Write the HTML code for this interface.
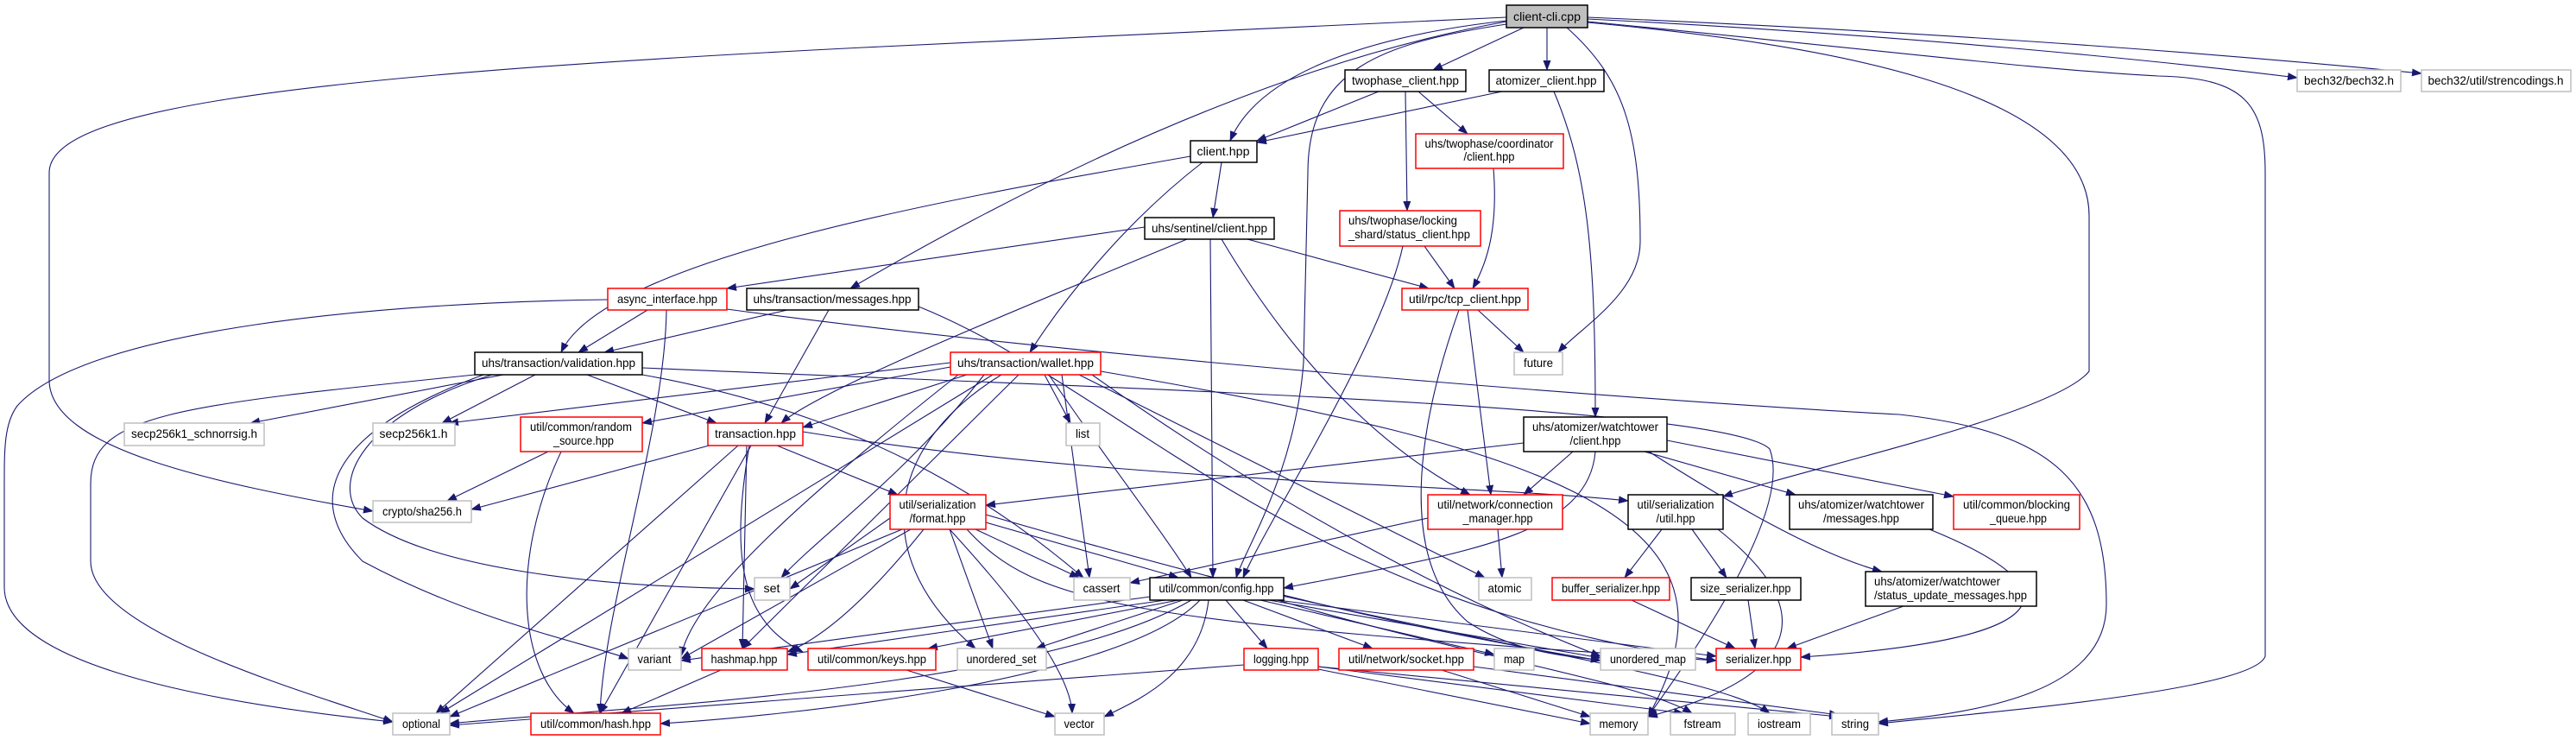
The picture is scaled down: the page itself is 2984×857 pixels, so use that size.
<!DOCTYPE html>
<html><head><meta charset="utf-8"><style>
html,body{margin:0;padding:0;background:#fff}
svg{display:block}
text{font-family:"Liberation Sans",sans-serif;font-size:14px;fill:#000}
.e{fill:none;stroke:#191970;stroke-width:1.1}
.k{fill:#fff;stroke:#000;stroke-width:1.5}
.r{fill:#fff;stroke:#ff0000;stroke-width:1.5}
.g{fill:#fff;stroke:#bfbfbf;stroke-width:1.5}
</style></head><body>
<svg width="2984" height="857" viewBox="0 0 2984 857" xmlns="http://www.w3.org/2000/svg">
<defs><marker id="a" markerUnits="userSpaceOnUse" markerWidth="12" markerHeight="10" refX="11" refY="4.5" orient="auto"><path d="M0,0 L12,4.5 L0,9 z" fill="#191970"/></marker></defs>
<g class="e" marker-end="url(#a)">
<path d="M1765,32 L1660,81"/>
<path d="M1792,32 L1792,81"/>
<path d="M1745,24 C1600,40 1460,80 1425,163"/>
<path d="M1839,22 C2200,40 2500,70 2661,90"/>
<path d="M1839,20 C2300,40 2600,65 2805,85"/>
<path d="M1815,32 C1880,90 1900,150 1900,280 C1900,340 1830,380 1805,408"/>
<path d="M1745,25 C1550,60 1300,150 985,334"/>
<path d="M1745,20 L1000,55 C300,90 57,130 57,200 L57,440 C57,520 250,560 432,592"/>
<path d="M1745,28 C1600,50 1515,80 1515,200 L1510,420 C1500,550 1440,640 1432,669"/>
<path d="M1839,26 C2100,50 2420,100 2420,250 L2420,430 C2380,480 2100,540 1996,575"/>
<path d="M1839,25 C2200,60 2350,80 2500,88 C2600,90 2624,120 2624,200 L2624,760 C2610,800 2300,825 2176,838"/>
<path d="M1800,106 C1840,200 1848,300 1848,483"/>
<path d="M1740,106 L1456,165"/>
<path d="M1597,106 L1456,163"/>
<path d="M1643,106 L1700,155"/>
<path d="M1628,106 L1630,244"/>
<path d="M1730,195 C1735,260 1725,300 1706,334"/>
<path d="M1650,285 L1685,334"/>
<path d="M1625,285 C1600,400 1470,600 1440,669"/>
<path d="M1415,188 L1405,252"/>
<path d="M1393,188 C1300,260 1230,350 1193,408"/>
<path d="M1379,181 C1100,230 700,300 650,408"/>
<path d="M1326,263 L842,334"/>
<path d="M1375,277 C1200,350 950,450 905,490"/>
<path d="M1402,277 L1405,669"/>
<path d="M1415,277 C1500,420 1600,520 1703,573"/>
<path d="M1445,277 L1655,334"/>
<path d="M1712,359 L1765,408"/>
<path d="M1700,359 L1727,573"/>
<path d="M1690,359 C1640,500 1620,650 1700,720 C1760,760 1830,760 1854,765"/>
<path d="M750,359 L670,408"/>
<path d="M772,359 C770,500 700,700 695,826"/>
<path d="M704,347 C450,350 100,380 20,470 C5,490 5,520 5,560 L5,680 C5,780 300,820 455,836"/>
<path d="M842,358 C1300,420 2000,470 2200,480 C2380,500 2440,560 2440,700 C2440,800 2300,825 2176,836"/>
<path d="M912,359 L700,408"/>
<path d="M960,359 L886,490"/>
<path d="M1064,355 C1300,450 1500,700 1988,765"/>
<path d="M583,434 L290,490"/>
<path d="M620,434 L512,490"/>
<path d="M680,434 L830,490"/>
<path d="M570,434 C420,480 380,560 420,600 C500,660 700,680 874,682"/>
<path d="M560,434 C380,500 350,580 420,650 C550,720 680,745 728,763"/>
<path d="M550,434 C200,470 105,480 105,560 L105,650 C105,730 350,800 455,836"/>
<path d="M744,434 C1000,480 1150,580 1255,669"/>
<path d="M744,426 C1300,450 2000,470 2050,520 C2080,600 1930,800 1909,830"/>
<path d="M1101,420 L520,490"/>
<path d="M1101,425 L744,490"/>
<path d="M1120,434 L930,495"/>
<path d="M1210,434 L1240,490"/>
<path d="M1140,434 C1050,550 950,620 905,669"/>
<path d="M1150,434 L510,826"/>
<path d="M1180,434 L860,751"/>
<path d="M1215,434 C1280,530 1350,620 1380,669"/>
<path d="M1160,434 C1020,520 1010,650 1130,751"/>
<path d="M1230,434 L1262,669"/>
<path d="M1250,434 L1720,669"/>
<path d="M1265,434 C1500,600 1700,700 1854,760"/>
<path d="M1275,430 C1800,520 2040,600 1909,830"/>
<path d="M1110,434 C900,600 800,700 789,760"/>
<path d="M635,523 L518,580"/>
<path d="M650,523 C590,650 600,780 665,826"/>
<path d="M825,515 L546,590"/>
<path d="M855,516 L505,826"/>
<path d="M870,516 L695,826"/>
<path d="M868,516 C845,650 860,720 930,755"/>
<path d="M865,516 L860,751"/>
<path d="M900,516 L1040,573"/>
<path d="M930,500 C1300,560 1700,560 1886,580"/>
<path d="M1031,600 L915,682"/>
<path d="M1130,613 L1250,669"/>
<path d="M1142,605 L1365,669"/>
<path d="M1100,613 L1150,751"/>
<path d="M1100,613 C1180,700 1240,780 1242,826"/>
<path d="M1055,613 L789,763"/>
<path d="M1045,613 L521,830"/>
<path d="M1142,596 C1500,700 1700,740 1854,765"/>
<path d="M1120,613 C1200,700 1300,720 1988,765"/>
<path d="M1070,613 C1000,700 950,740 912,755"/>
<path d="M1654,600 L1309,675"/>
<path d="M1735,613 L1740,669"/>
<path d="M1765,513 L1142,585"/>
<path d="M1822,523 L1765,573"/>
<path d="M1848,523 C1840,620 1700,640 1487,681"/>
<path d="M1905,523 L2080,573"/>
<path d="M1931,510 L2263,575"/>
<path d="M1910,523 C2000,580 2100,640 2180,662"/>
<path d="M1925,613 L1882,669"/>
<path d="M1960,613 L2000,669"/>
<path d="M1990,613 C2100,700 2100,780 1909,830"/>
<path d="M1890,695 L2010,751"/>
<path d="M2025,695 L2033,751"/>
<path d="M2205,702 L2070,751"/>
<path d="M2235,613 C2400,680 2400,740 2086,761"/>
<path d="M1365,695 L1075,751"/>
<path d="M1370,695 L1200,751"/>
<path d="M1350,695 L912,758"/>
<path d="M1340,690 L789,765"/>
<path d="M1380,695 C1200,800 700,820 521,838"/>
<path d="M1390,695 C1300,790 900,830 765,838"/>
<path d="M1400,695 C1390,780 1320,810 1279,830"/>
<path d="M1420,695 L1468,751"/>
<path d="M1440,695 L1590,751"/>
<path d="M1460,695 L1731,758"/>
<path d="M1470,695 L1854,762"/>
<path d="M1480,695 L1988,760"/>
<path d="M1480,695 C1700,760 1900,790 1960,826"/>
<path d="M1485,690 C1800,760 2000,790 2050,826"/>
<path d="M1050,776 L1222,830"/>
<path d="M835,776 L720,826"/>
<path d="M1441,770 L521,840"/>
<path d="M1527,775 L1842,838"/>
<path d="M1527,772 L1950,826"/>
<path d="M1527,772 L2130,830"/>
<path d="M1670,776 L1842,830"/>
<path d="M1707,772 L2130,828"/>
</g>
<g>
<rect x="1745" y="6" width="94" height="26" fill="#bfbfbf" stroke="#000" stroke-width="1.5"/><text x="1792" y="24" text-anchor="middle" textLength="78" lengthAdjust="spacingAndGlyphs">client-cli.cpp</text>
<rect class="k" x="1558" y="81" width="140" height="25"/><text x="1628" y="98" text-anchor="middle" textLength="124" lengthAdjust="spacingAndGlyphs">twophase_client.hpp</text>
<rect class="k" x="1725" y="81" width="133" height="25"/><text x="1791" y="98" text-anchor="middle" textLength="117" lengthAdjust="spacingAndGlyphs">atomizer_client.hpp</text>
<rect class="g" x="2661" y="81" width="120" height="25"/><text x="2721" y="98" text-anchor="middle" textLength="104" lengthAdjust="spacingAndGlyphs">bech32/bech32.h</text>
<rect class="g" x="2805" y="81" width="173" height="25"/><text x="2891" y="98" text-anchor="middle" textLength="157" lengthAdjust="spacingAndGlyphs">bech32/util/strencodings.h</text>
<rect class="k" x="1379" y="163" width="77" height="25"/><text x="1417" y="180" text-anchor="middle" textLength="61" lengthAdjust="spacingAndGlyphs">client.hpp</text>
<rect class="r" x="1640" y="155" width="171" height="40"/><text x="1725" y="171" text-anchor="middle" textLength="149" lengthAdjust="spacingAndGlyphs">uhs/twophase/coordinator</text><text x="1725" y="186" text-anchor="middle" textLength="59" lengthAdjust="spacingAndGlyphs">/client.hpp</text>
<rect class="k" x="1326" y="252" width="150" height="25"/><text x="1401" y="269" text-anchor="middle" textLength="134" lengthAdjust="spacingAndGlyphs">uhs/sentinel/client.hpp</text>
<rect class="r" x="1552" y="244" width="163" height="41"/><text x="1562" y="260" textLength="126" lengthAdjust="spacingAndGlyphs">uhs/twophase/locking</text><text x="1562" y="276" textLength="141" lengthAdjust="spacingAndGlyphs">_shard/status_client.hpp</text>
<rect class="r" x="1624" y="334" width="146" height="25"/><text x="1697" y="351" text-anchor="middle" textLength="130" lengthAdjust="spacingAndGlyphs">util/rpc/tcp_client.hpp</text>
<rect class="g" x="1754" y="408" width="56" height="26"/><text x="1782" y="425" text-anchor="middle" textLength="34" lengthAdjust="spacingAndGlyphs">future</text>
<rect class="r" x="704" y="334" width="138" height="25"/><text x="773" y="351" text-anchor="middle" textLength="116" lengthAdjust="spacingAndGlyphs">async_interface.hpp</text>
<rect class="k" x="865" y="334" width="199" height="25"/><text x="964" y="351" text-anchor="middle" textLength="183" lengthAdjust="spacingAndGlyphs">uhs/transaction/messages.hpp</text>
<rect class="k" x="550" y="408" width="194" height="26"/><text x="647" y="425" text-anchor="middle" textLength="178" lengthAdjust="spacingAndGlyphs">uhs/transaction/validation.hpp</text>
<rect class="r" x="1101" y="408" width="174" height="26"/><text x="1188" y="425" text-anchor="middle" textLength="158" lengthAdjust="spacingAndGlyphs">uhs/transaction/wallet.hpp</text>
<rect class="g" x="144" y="490" width="162" height="26"/><text x="225" y="507" text-anchor="middle" textLength="146" lengthAdjust="spacingAndGlyphs">secp256k1_schnorrsig.h</text>
<rect class="g" x="432" y="490" width="95" height="26"/><text x="479" y="507" text-anchor="middle" textLength="79" lengthAdjust="spacingAndGlyphs">secp256k1.h</text>
<rect class="r" x="603" y="483" width="141" height="40"/><text x="673" y="499" text-anchor="middle" textLength="118" lengthAdjust="spacingAndGlyphs">util/common/random</text><text x="676" y="515" text-anchor="middle" textLength="70" lengthAdjust="spacingAndGlyphs">_source.hpp</text>
<rect class="r" x="820" y="490" width="110" height="26"/><text x="875" y="507" text-anchor="middle" textLength="94" lengthAdjust="spacingAndGlyphs">transaction.hpp</text>
<rect class="g" x="1235" y="490" width="39" height="26"/><text x="1254" y="507" text-anchor="middle" textLength="16" lengthAdjust="spacingAndGlyphs">list</text>
<rect class="k" x="1765" y="483" width="166" height="40"/><text x="1848" y="499" text-anchor="middle" textLength="146" lengthAdjust="spacingAndGlyphs">uhs/atomizer/watchtower</text><text x="1848" y="515" text-anchor="middle" textLength="59" lengthAdjust="spacingAndGlyphs">/client.hpp</text>
<rect class="g" x="432" y="580" width="114" height="25"/><text x="489" y="597" text-anchor="middle" textLength="92" lengthAdjust="spacingAndGlyphs">crypto/sha256.h</text>
<rect class="r" x="1031" y="573" width="111" height="40"/><text x="1086" y="589" text-anchor="middle" textLength="89" lengthAdjust="spacingAndGlyphs">util/serialization</text><text x="1086" y="605" text-anchor="middle" textLength="65" lengthAdjust="spacingAndGlyphs">/format.hpp</text>
<rect class="r" x="1654" y="573" width="156" height="40"/><text x="1732" y="589" text-anchor="middle" textLength="134" lengthAdjust="spacingAndGlyphs">util/network/connection</text><text x="1735" y="605" text-anchor="middle" textLength="81" lengthAdjust="spacingAndGlyphs">_manager.hpp</text>
<rect class="k" x="1886" y="573" width="110" height="40"/><text x="1941" y="589" text-anchor="middle" textLength="89" lengthAdjust="spacingAndGlyphs">util/serialization</text><text x="1941" y="605" text-anchor="middle" textLength="45" lengthAdjust="spacingAndGlyphs">/util.hpp</text>
<rect class="k" x="2073" y="573" width="166" height="40"/><text x="2156" y="589" text-anchor="middle" textLength="146" lengthAdjust="spacingAndGlyphs">uhs/atomizer/watchtower</text><text x="2156" y="605" text-anchor="middle" textLength="88" lengthAdjust="spacingAndGlyphs">/messages.hpp</text>
<rect class="r" x="2263" y="573" width="146" height="40"/><text x="2336" y="589" text-anchor="middle" textLength="124" lengthAdjust="spacingAndGlyphs">util/common/blocking</text><text x="2338" y="605" text-anchor="middle" textLength="66" lengthAdjust="spacingAndGlyphs">_queue.hpp</text>
<rect class="g" x="874" y="669" width="41" height="26"/><text x="894" y="686" text-anchor="middle" textLength="19" lengthAdjust="spacingAndGlyphs">set</text>
<rect class="g" x="1244" y="669" width="65" height="26"/><text x="1276" y="686" text-anchor="middle" textLength="43" lengthAdjust="spacingAndGlyphs">cassert</text>
<rect class="k" x="1332" y="669" width="155" height="26"/><text x="1409" y="686" text-anchor="middle" textLength="133" lengthAdjust="spacingAndGlyphs">util/common/config.hpp</text>
<rect class="g" x="1713" y="669" width="61" height="26"/><text x="1743" y="686" text-anchor="middle" textLength="39" lengthAdjust="spacingAndGlyphs">atomic</text>
<rect class="r" x="1798" y="669" width="136" height="26"/><text x="1866" y="686" text-anchor="middle" textLength="114" lengthAdjust="spacingAndGlyphs">buffer_serializer.hpp</text>
<rect class="k" x="1959" y="669" width="127" height="26"/><text x="2022" y="686" text-anchor="middle" textLength="105" lengthAdjust="spacingAndGlyphs">size_serializer.hpp</text>
<rect class="k" x="2161" y="662" width="198" height="40"/><text x="2171" y="678" textLength="146" lengthAdjust="spacingAndGlyphs">uhs/atomizer/watchtower</text><text x="2171" y="694" textLength="177" lengthAdjust="spacingAndGlyphs">/status_update_messages.hpp</text>
<rect class="g" x="728" y="751" width="61" height="25"/><text x="758" y="768" text-anchor="middle" textLength="39" lengthAdjust="spacingAndGlyphs">variant</text>
<rect class="r" x="813" y="751" width="99" height="25"/><text x="862" y="768" text-anchor="middle" textLength="77" lengthAdjust="spacingAndGlyphs">hashmap.hpp</text>
<rect class="r" x="936" y="751" width="148" height="25"/><text x="1010" y="768" text-anchor="middle" textLength="126" lengthAdjust="spacingAndGlyphs">util/common/keys.hpp</text>
<rect class="g" x="1109" y="751" width="103" height="25"/><text x="1160" y="768" text-anchor="middle" textLength="81" lengthAdjust="spacingAndGlyphs">unordered_set</text>
<rect class="r" x="1441" y="751" width="86" height="25"/><text x="1484" y="768" text-anchor="middle" textLength="64" lengthAdjust="spacingAndGlyphs">logging.hpp</text>
<rect class="r" x="1551" y="751" width="156" height="25"/><text x="1629" y="768" text-anchor="middle" textLength="134" lengthAdjust="spacingAndGlyphs">util/network/socket.hpp</text>
<rect class="g" x="1731" y="751" width="46" height="25"/><text x="1754" y="768" text-anchor="middle" textLength="24" lengthAdjust="spacingAndGlyphs">map</text>
<rect class="g" x="1854" y="751" width="110" height="25"/><text x="1909" y="768" text-anchor="middle" textLength="88" lengthAdjust="spacingAndGlyphs">unordered_map</text>
<rect class="r" x="1988" y="751" width="98" height="25"/><text x="2037" y="768" text-anchor="middle" textLength="76" lengthAdjust="spacingAndGlyphs">serializer.hpp</text>
<rect class="g" x="455" y="826" width="66" height="25"/><text x="488" y="843" text-anchor="middle" textLength="44" lengthAdjust="spacingAndGlyphs">optional</text>
<rect class="r" x="615" y="826" width="150" height="25"/><text x="690" y="843" text-anchor="middle" textLength="128" lengthAdjust="spacingAndGlyphs">util/common/hash.hpp</text>
<rect class="g" x="1222" y="826" width="57" height="25"/><text x="1250" y="843" text-anchor="middle" textLength="35" lengthAdjust="spacingAndGlyphs">vector</text>
<rect class="g" x="1842" y="826" width="67" height="25"/><text x="1875" y="843" text-anchor="middle" textLength="45" lengthAdjust="spacingAndGlyphs">memory</text>
<rect class="g" x="1935" y="826" width="75" height="25"/><text x="1972" y="843" text-anchor="middle" textLength="43" lengthAdjust="spacingAndGlyphs">fstream</text>
<rect class="g" x="2025" y="826" width="72" height="25"/><text x="2061" y="843" text-anchor="middle" textLength="50" lengthAdjust="spacingAndGlyphs">iostream</text>
<rect class="g" x="2122" y="826" width="54" height="25"/><text x="2149" y="843" text-anchor="middle" textLength="32" lengthAdjust="spacingAndGlyphs">string</text>
</g>
</svg>
</body></html>
